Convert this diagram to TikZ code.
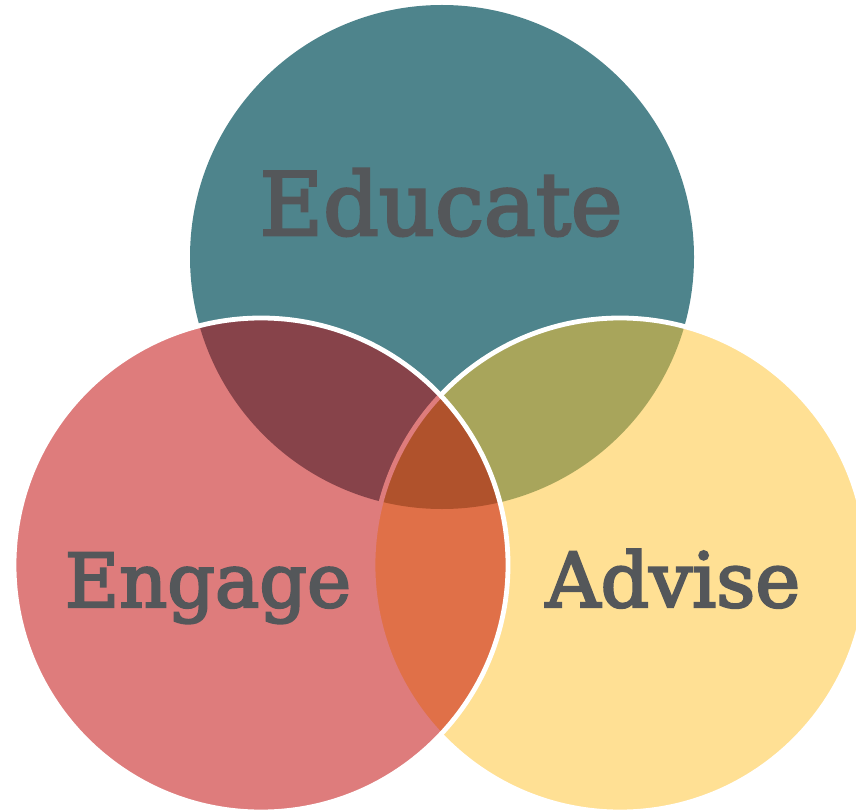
\documentclass[tikz,border=0pt]{standalone}
\usepackage{fontspec}
\newfontfamily\labelfont{DejaVu Serif}[RawFeature={embolden=3}]
\definecolor{tealc}{HTML}{4E848C}
\definecolor{pinkc}{HTML}{DE7C7C}
\definecolor{yellowc}{HTML}{FFE094}
\definecolor{maroonc}{HTML}{87434A}
\definecolor{olivec}{HTML}{A8A55B}
\definecolor{orangec}{HTML}{E07048}
\definecolor{brownc}{HTML}{B0522C}
\definecolor{textc}{HTML}{54575A}

\begin{document}
\begin{tikzpicture}[x=0.25mm,y=-0.25mm,
    label/.style={text=textc,anchor=base,inner sep=0pt,font=\labelfont\fontsize{53}{53}\selectfont},
    rim/.style={line width=1.2mm}]
  \useasboundingbox (0,0) rectangle (856,810);
  \coordinate (edu) at (442,257);
  \coordinate (eng) at (261,565);
  \coordinate (adv) at (620,565);
  \def\rr{247}

  % base circles
  \fill[tealc] (edu) circle (252);
  \fill[yellowc] (adv) circle (\rr);
  \begin{scope}
    \clip (edu) circle (252);
    \fill[olivec] (adv) circle (\rr);
  \end{scope}
  \draw[rim,white] (adv) circle (\rr);
  \fill[pinkc] (eng) circle (\rr);

  % overlaps with the pink circle
  \begin{scope}
    \clip (eng) circle (\rr);
    \fill[maroonc] (edu) circle (252);
    \fill[orangec] (adv) circle (\rr);
    \begin{scope}
      \clip (edu) circle (252);
      \fill[brownc] (adv) circle (\rr);
    \end{scope}
    \draw[rim,pinkc] (adv) circle (\rr);
  \end{scope}
  \draw[rim,white] (eng) circle (\rr);

  \node[label,font=\labelfont\fontsize{62}{62}\selectfont] (educate) at (441,235) {Educate};
  \node[label] (engage) at (208,607) {Engage};
  \node[label,font=\labelfont\fontsize{54}{54}\selectfont] (advise) at (673,607) {Advise};
\end{tikzpicture}
\end{document}
